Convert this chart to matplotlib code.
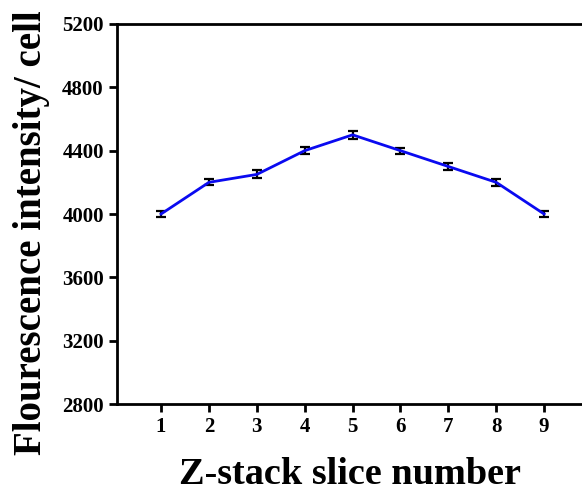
import matplotlib
matplotlib.use('Agg')
import matplotlib.pyplot as plt

# slice data
slices = [1, 2, 3, 4, 5, 6, 7, 8, 9]
intensity = [4000, 4200, 4250, 4400, 4500, 4400, 4300, 4200, 4000]
err = [20, 18, 25, 22, 25, 18, 20, 20, 20]

plt.rcParams['font.family'] = 'Liberation Serif'
plt.rcParams['font.weight'] = 'bold'

fig = plt.figure(figsize=(5.82, 4.91), dpi=100)
ax = fig.add_axes([117/582, 87/491, 475/582, 380/491])

ax.errorbar(slices, intensity, yerr=err, color='#0a0af0', lw=2,
            ecolor='black', elinewidth=1.6, capsize=3.5, capthick=1.6)

ax.set_xlim(0.08, 10)
ax.set_ylim(2800, 5200)
ax.set_xticks(slices)
ax.set_yticks(range(2800, 5201, 400))
ax.tick_params(direction='out', width=2, length=6, labelsize=15)
for lab in ax.get_xticklabels() + ax.get_yticklabels():
    lab.set_fontweight('bold')

for s in ['left', 'bottom', 'top']:
    ax.spines[s].set_linewidth(2)
ax.spines['right'].set_visible(False)

ax.set_xlabel('Z-stack slice number', fontsize=27.5, fontweight='bold')
ax.set_ylabel('Flourescence intensity/ cell', fontsize=28, fontweight='bold')
ax.xaxis.set_label_coords(0.49, -0.14)
ax.yaxis.set_label_coords(-0.14, 0.45)

fig.savefig('out.png', dpi=100)
